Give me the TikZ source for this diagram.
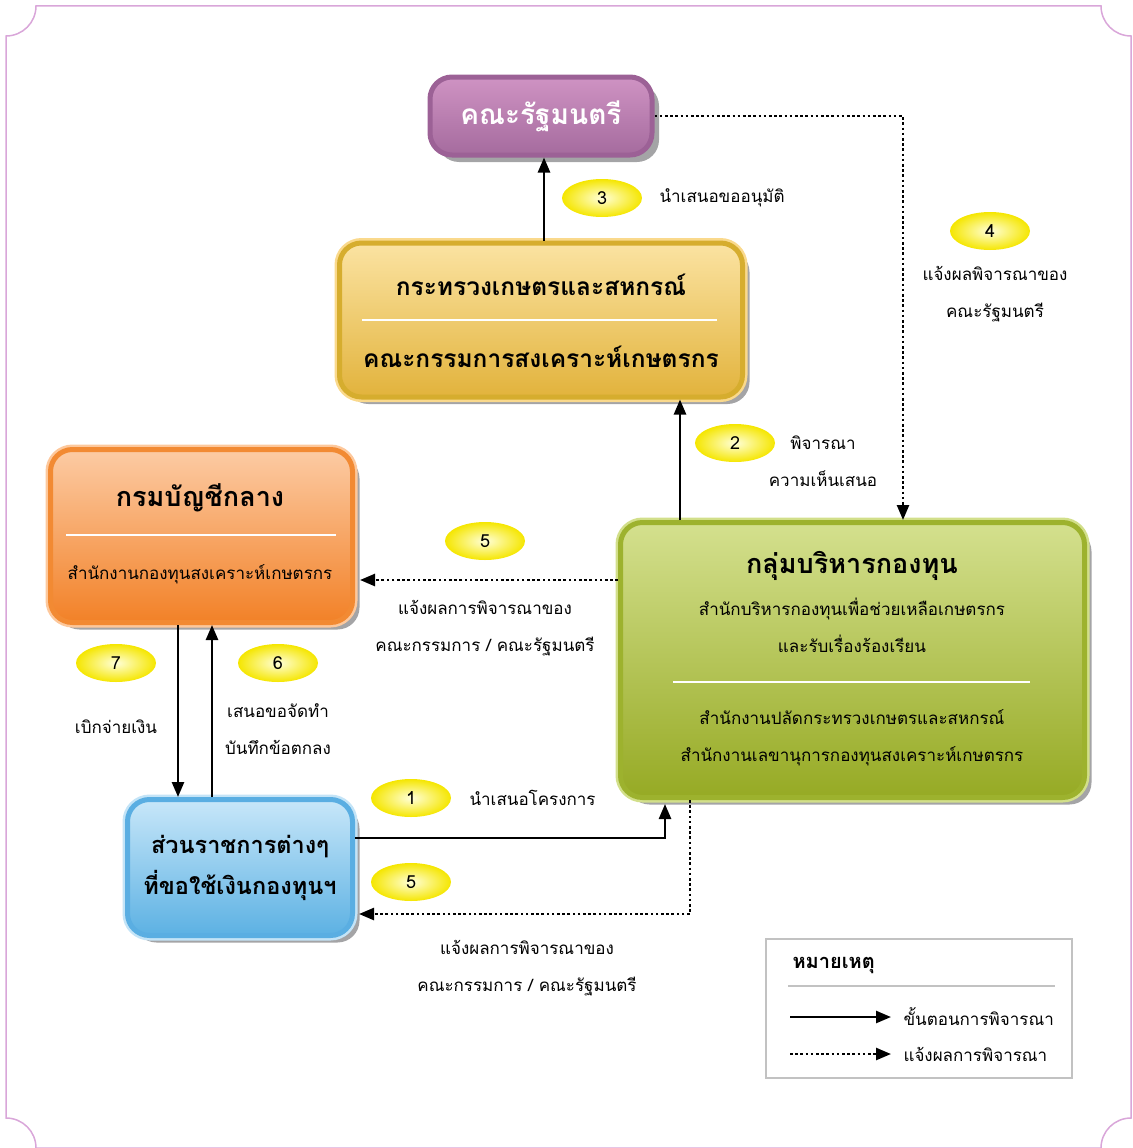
\documentclass[tikz,border=0pt]{standalone}
\usepackage{fontspec}
\setmainfont[Script=Thai]{Loma}
\usepackage{tikz}
\usetikzlibrary{%
  calc,
  positioning,
  shapes.geometric,
  shadows,
  arrows.meta,
}

\definecolor{framepink}{HTML}{D9A6D9}
\definecolor{shadowgray}{HTML}{A4A4A6}
\definecolor{cabtop}{HTML}{CF93C3}
\definecolor{cabbottom}{HTML}{A56B9E}
\definecolor{cabborder}{HTML}{9C6196}
\definecolor{mintop}{HTML}{FBE3A2}
\definecolor{minbottom}{HTML}{E2B33C}
\definecolor{minborder}{HTML}{D6AD2E}
\definecolor{minrim}{HTML}{FAD98C}
\definecolor{deptop}{HTML}{FCCBA4}
\definecolor{depbottom}{HTML}{F28127}
\definecolor{depborder}{HTML}{F28A33}
\definecolor{deprim}{HTML}{FDC89C}
\definecolor{grptop}{HTML}{D4E08E}
\definecolor{grpbottom}{HTML}{96AA24}
\definecolor{grpborder}{HTML}{9DB22E}
\definecolor{grprim}{HTML}{D2DF8A}
\definecolor{agtop}{HTML}{C8E7F9}
\definecolor{agbottom}{HTML}{5CB1E3}
\definecolor{agborder}{HTML}{5AAEE2}
\definecolor{agrim}{HTML}{C4E4F7}
\definecolor{badgeyellow}{HTML}{F5E600}
\definecolor{legendgray}{HTML}{C2C2C2}

\newcommand\headfont{\fontsize{28}{32}\selectfont\bfseries}
\newcommand\boxfont{\fontsize{24.5}{28}\selectfont\bfseries}
\newcommand\titlefont{\fontsize{27}{30}\selectfont\bfseries}
\newcommand\labelfont{\fontsize{17}{37}\selectfont}

\tikzset{
  panel/.style = {
    rectangle, rounded corners = 22pt, line width = 5pt,
    align = center, inner sep = 0pt,
    drop shadow = {shadow xshift = 7pt, shadow yshift = -7pt,
                   fill = shadowgray, opacity = 1},
  },
  rim/.style = {preaction = {draw = #1, line width = 10pt}},
  sepline/.style = {white, line width = 2pt},
  flow/.style = {line width = 2.5pt, -{Triangle[length = 15pt, width = 12pt]}},
  notify/.style = {flow, dash pattern = on 2.6pt off 2.6pt},
  badge/.style = {
    ellipse, minimum width = 80pt, minimum height = 38pt,
    inner color = yellow!15, outer color = badgeyellow,
    font = \fontsize{18}{20}\selectfont,
  },
  note/.style = {font = \labelfont, align = center},
}

\begin{document}
\begin{tikzpicture}[x = 1pt, y = -1pt]
  \useasboundingbox (0,0) rectangle (1132,1148);

  % frame with cut corners
  \draw[framepink, line width = 1.5pt]
    (36,6) -- (1101,6) .. controls (1101,22.6) and (1114.4,36) .. (1131,36)
    -- (1131,1118) .. controls (1114.4,1118) and (1101,1131.4) .. (1101,1148)
    -- (36,1148) .. controls (36,1131.4) and (22.6,1118) .. (6,1118)
    -- (6,36) .. controls (22.6,36) and (36,22.6) .. (36,6) -- cycle;

  % boxes
  \node[
    panel, draw = cabborder,
    top color = cabtop, bottom color = cabbottom,
    minimum width = 222pt, minimum height = 78pt,
    text = white, font = \headfont,
  ] (cabinet) at (541,116) {คณะรัฐมนตรี};

  \node[
    panel, rim = minrim, draw = minborder,
    top color = mintop, bottom color = minbottom,
    minimum width = 403pt, minimum height = 154pt,
  ] (ministry) at (541,320) {};
  \node[font = \boxfont] (mintitle) at (541,285) {กระทรวงเกษตรและสหกรณ์};
  \node[font = \boxfont] (minsub) at (541,357) {คณะกรรมการสงเคราะห์เกษตรกร};
  \draw[sepline] (362,320) -- (717,320);

  \node[
    panel, rim = deprim, draw = depborder,
    top color = deptop, bottom color = depbottom,
    minimum width = 302pt, minimum height = 173pt,
  ] (dept) at (201.5,536) {};
  \node[font = \titlefont] (deptitle) at (200,498) {กรมบัญชีกลาง};
  \node[note] (depsub) at (200,574) {สำนักงานกองทุนสงเคราะห์เกษตรกร};
  \draw[sepline] (66,535) -- (336,535);

  \node[
    panel, rim = grprim, draw = grpborder,
    top color = grptop, bottom color = grpbottom,
    minimum width = 464pt, minimum height = 275pt,
  ] (group) at (852.5,660) {};
  \node[font = \titlefont] (grptitle) at (852,566) {กลุ่มบริหารกองทุน};
  \node[note] (grpsub) at (852,625)
    {สำนักบริหารกองทุนเพื่อช่วยเหลือเกษตรกร\\และรับเรื่องร้องเรียน};
  \node[note] (grpsec) at (852,738)
    {สำนักงานปลัดกระทรวงเกษตรและสหกรณ์\\สำนักงานเลขานุการกองทุนสงเคราะห์เกษตรกร};
  \draw[sepline] (673,682) -- (1030,682);

  \node[
    panel, rim = agrim, draw = agborder,
    top color = agtop, bottom color = agbottom,
    minimum width = 225pt, minimum height = 136pt,
    font = \fontsize{23.5}{41}\selectfont\bfseries,
  ] (agency) at (240,867.5) {ส่วนราชการต่างๆ\\ที่ขอใช้เงินกองทุนฯ};

  % steps
  \draw[flow] (ministry.north -| 544,0) -- (cabinet.south -| 544,0);
  \draw[flow] (group.north -| 680,0) -- (ministry.south -| 680,0);
  \draw[flow] (dept.south -| 178,0) -- (agency.north -| 178,0);
  \draw[flow] (agency.north -| 212,0) -- (dept.south -| 212,0);
  \draw[flow, shorten > = 4pt] (agency.east |- 0,838) -| (group.south -| 665,0);

  % results
  \draw[notify] (cabinet.east) -| (group.north -| 903,0);
  \draw[notify, shorten > = 5pt] (group.west |- 0,580) -- (dept.east |- 0,580);
  \draw[notify, shorten > = 4pt] (group.south -| 690,0) |- (agency.east |- 0,914);

  % badges and labels
  \node[badge] (b3) at (602,198) {3};
  \node[note, anchor = west] (l3) at (656,198) {นำเสนอขออนุมัติ};
  \node[badge] (b4) at (990,231) {4};
  \node[note] (l4) at (995,294) {แจ้งผลพิจารณาของ\\คณะรัฐมนตรี};
  \node[badge] (b2) at (735,443) {2};
  \node[note] (l2) at (823,461) {พิจารณา\\ความเห็นเสนอ};
  \node[badge] (b5a) at (485,541) {5};
  \node[note] (l5a) at (485,628) {แจ้งผลการพิจารณาของ\\คณะกรรมการ / คณะรัฐมนตรี};
  \node[badge] (b7) at (116,663) {7};
  \node[note] (l7) at (116,727) {เบิกจ่ายเงิน};
  \node[badge] (b6) at (278,663) {6};
  \node[note] (l6) at (278,729) {เสนอขอจัดทำ\\บันทึกข้อตกลง};
  \node[badge] (b1) at (411,798) {1};
  \node[note, anchor = west] (l1) at (466,798) {นำเสนอโครงการ};
  \node[badge] (b5b) at (411,882) {5};
  \node[note] (l5b) at (527,968) {แจ้งผลการพิจารณาของ\\คณะกรรมการ / คณะรัฐมนตรี};

  % legend
  \node[
    draw = legendgray, line width = 2pt, fill = white,
    minimum width = 306pt, minimum height = 139pt,
  ] (legend) at (919,1008.5) {};
  \node[font = \fontsize{20}{22}\selectfont\bfseries, anchor = west] (legtitle)
    at (789,965) {หมายเหตุ};
  \draw[legendgray, line width = 2pt] (788,986) -- (1055,986);
  \coordinate (s1) at (790,1017);
  \coordinate (s2) at (891,1017);
  \coordinate (r1) at (790,1054);
  \coordinate (r2) at (891,1054);
  \draw[flow] (s1) -- (s2);
  \draw[notify] (r1) -- (r2);
  \node[note, anchor = west] (legstep) at (900,1017) {ขั้นตอนการพิจารณา};
  \node[note, anchor = west] (legres) at (900,1054) {แจ้งผลการพิจารณา};
\end{tikzpicture}
\end{document}
